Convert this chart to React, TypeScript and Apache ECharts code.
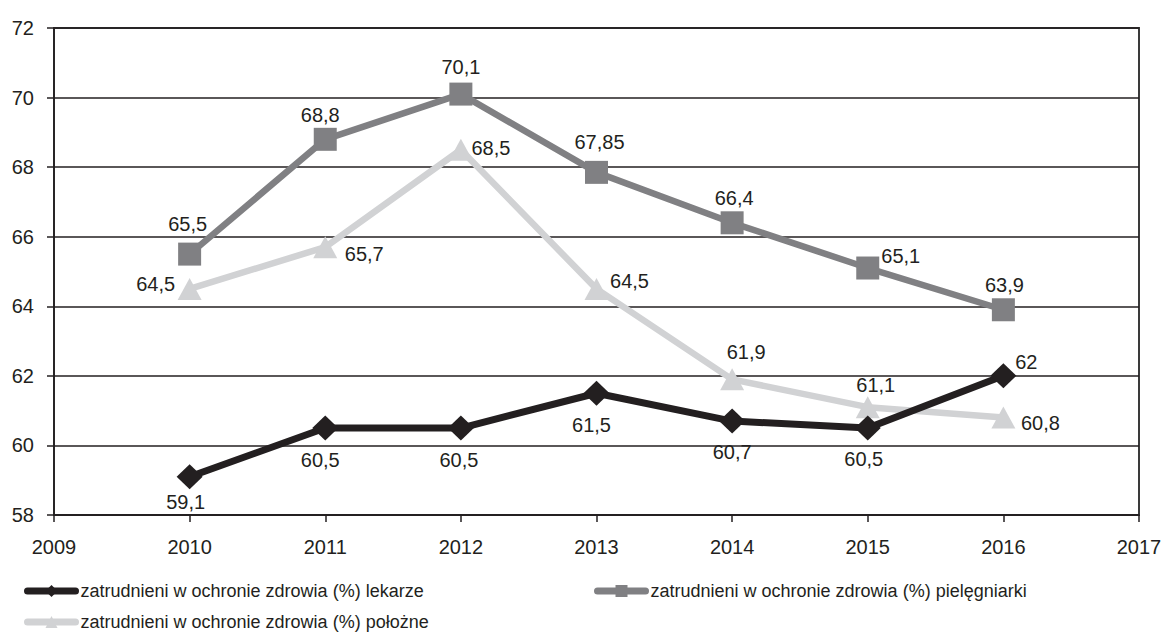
import React, { useEffect, useRef } from "react";
import * as echarts from "echarts";

const years = [2010, 2011, 2012, 2013, 2014, 2015, 2016];
const seriesNames = [
  "zatrudnieni w ochronie zdrowia (%) lekarze",
  "zatrudnieni w ochronie zdrowia (%) pielęgniarki",
  "zatrudnieni w ochronie zdrowia (%) położne",
];
const lekarze = [59.1, 60.5, 60.5, 61.5, 60.7, 60.5, 62];
const pielegniarki = [65.5, 68.8, 70.1, 67.85, 66.4, 65.1, 63.9];
const polozne = [64.5, 65.7, 68.5, 64.5, 61.9, 61.1, 60.8];

// label offsets (style) relative to each marker centre
const lekarzeLabelOffsets = [[-4, 25], [-5, 32], [-2, 32], [-5, 32], [0, 31], [-4, 31], [23, -14]];
const pielegniarkiLabelOffsets = [[-2, -30], [-5, -24], [0, -27], [3, -30], [2, -25], [33, -12], [1, -25]];
const polozneLabelOffsets = [[-34, -5], [39, 7], [30, -2], [33, -8], [14, -27], [8, -22], [37, 5]];

const colors = ["#231f20", "#808083", "#d1d2d4"];
const FONT = "'Liberation Sans', Arial, Helvetica, sans-serif";

function fmt(v: number) {
  return String(v).replace(".", ",");
}

function build(values: number[], offsets: number[][]) {
  return values.map((v, i) => ({
    value: [years[i], v],
    label: { offset: offsets[i] },
  }));
}

export default function App() {
  const ref = useRef<HTMLDivElement>(null);
  useEffect(() => {
    if (!ref.current) return;
    const chart = echarts.init(ref.current, undefined, { renderer: "svg" });
    const labelBase = {
      show: true,
      position: "inside",
      align: "center",
      verticalAlign: "middle",
      fontSize: 20,
      fontFamily: FONT,
      color: "#231f20",
      formatter: (p: any) => fmt(p.value[1]),
    };
    const legendBase = {
      itemWidth: 48,
      itemHeight: 15,
      itemGap: 0,
      textStyle: { fontSize: 18, fontFamily: FONT, color: "#231f20" },
      lineStyle: { width: 7, cap: "round" },
      padding: 0,
    };
    chart.setOption({
      animation: false,
      backgroundColor: "#ffffff",
      textStyle: { fontFamily: FONT },
      grid: {
        left: 54,
        right: 27,
        top: 28,
        bottom: 118,
        show: true,
        borderColor: "#3a3a3a",
        borderWidth: 2,
        backgroundColor: "transparent",
      },
      legend: [
        { ...legendBase, data: [seriesNames[0]], left: 24, top: 582 },
        { ...legendBase, data: [seriesNames[1]], left: 594, top: 582 },
        { ...legendBase, data: [seriesNames[2]], left: 24, top: 613 },
      ],
      xAxis: {
        type: "value",
        min: 2009,
        max: 2017,
        interval: 1,
        axisLine: { show: true, lineStyle: { color: "#231f20", width: 1.5 } },
        axisTick: { show: true, inside: false, length: 7, lineStyle: { color: "#231f20", width: 1.5 } },
        axisLabel: { margin: 22, fontSize: 20, fontFamily: FONT, color: "#231f20", formatter: (v: number) => String(v) },
        splitLine: { show: false },
      },
      yAxis: {
        type: "value",
        min: 58,
        max: 72,
        interval: 2,
        axisLine: { show: true, lineStyle: { color: "#231f20", width: 1.5 } },
        axisTick: { show: true, inside: false, length: 7, lineStyle: { color: "#231f20", width: 1.5 } },
        axisLabel: { margin: 20, fontSize: 20, fontFamily: FONT, color: "#231f20" },
        splitLine: { show: true, lineStyle: { color: "#231f20", width: 1.5 } },
      },
      series: [
        {
          name: seriesNames[0],
          type: "line",
          data: build(lekarze, lekarzeLabelOffsets),
          symbol: "diamond",
          symbolSize: [26, 25],
          lineStyle: { color: colors[0], width: 7 },
          itemStyle: { color: colors[0] },
          label: labelBase,
          z: 4,
        },
        {
          name: seriesNames[1],
          type: "line",
          data: build(pielegniarki, pielegniarkiLabelOffsets),
          symbol: "rect",
          symbolSize: 23,
          lineStyle: { color: colors[1], width: 6.5 },
          itemStyle: { color: colors[1] },
          label: labelBase,
          z: 3,
        },
        {
          name: seriesNames[2],
          type: "line",
          data: build(polozne, polozneLabelOffsets),
          symbol: "triangle",
          symbolSize: [24, 22],
          lineStyle: { color: colors[2], width: 6.5 },
          itemStyle: { color: colors[2] },
          label: labelBase,
          z: 2,
        },
      ],
    });
    return () => chart.dispose();
  }, []);
  return (
    <div
      ref={ref}
      style={{ position: "fixed", left: 0, top: 0, width: 1166, height: 633, background: "#fff" }}
    />
  );
}
